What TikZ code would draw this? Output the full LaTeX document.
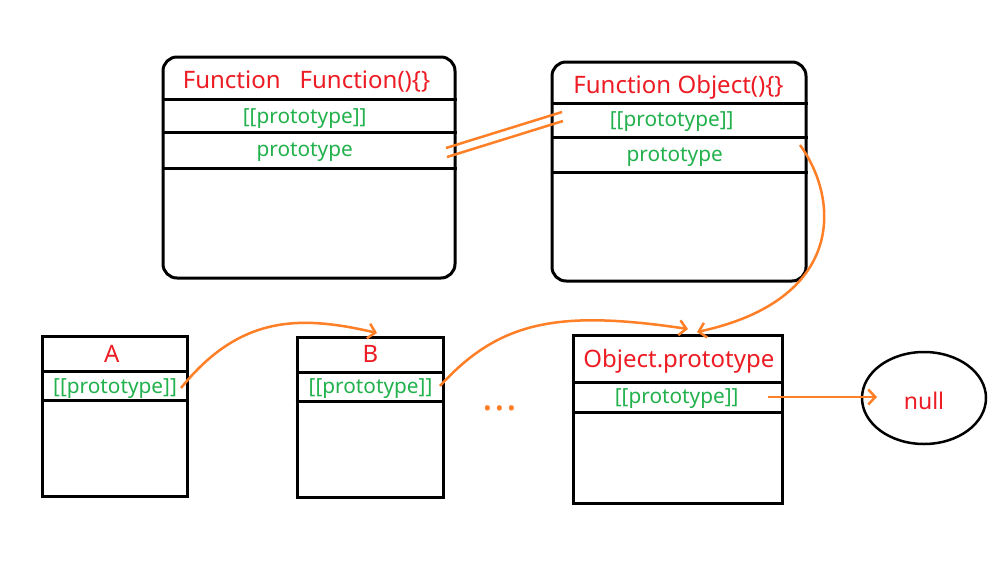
\documentclass[tikz,border=0pt]{standalone}
\usepackage{fontspec}
\setmainfont{Noto Sans}
\usetikzlibrary{arrows.meta,shapes.geometric}
\definecolor{pred}{HTML}{ED1C24}
\definecolor{pgreen}{HTML}{22B14C}
\definecolor{porange}{HTML}{FF7F27}
\begin{document}
\begin{tikzpicture}[x=1pt,y=-1pt,
  box/.style={draw=black, line width=3pt, inner sep=0pt},
  rbox/.style={box, rounded corners=14pt},
  div/.style={draw=black, line width=3pt},
  title/.style={text=pred, anchor=base, inner sep=0pt, font=\fontsize{24}{28}\selectfont},
  slot/.style={text=pgreen, anchor=base, inner sep=0pt, font=\fontsize{20.8}{24}\selectfont},
  link/.style={draw=porange, line width=2.5pt},
  tip/.style={-{Straight Barb[length=7pt,width=15pt]}}]
\useasboundingbox (0,0) rectangle (1001,562);
\fill[white] (0,0) rectangle (1001,562);

% boxes
\node[rbox, minimum width=292pt, minimum height=221pt] (f1) at (309,167.5) {};
\node[rbox, minimum width=254pt, minimum height=219pt] (f2) at (679,171.5) {};
\node[box, minimum width=145pt, minimum height=160pt] (a) at (114.5,416) {};
\node[box, minimum width=146pt, minimum height=160pt] (b) at (370,417) {};
\node[box, minimum width=209pt, minimum height=168pt] (o) at (677.5,419) {};
\node[draw=black, line width=2.5pt, ellipse, minimum width=124pt, minimum height=92pt, inner sep=0pt] (nul) at (924,398) {};

% dividers
\draw[div] (f1.west |- 0,99) -- (f1.east |- 0,99);
\draw[div] (f1.west |- 0,132) -- (f1.east |- 0,132);
\draw[div] (f1.west |- 0,168) -- (f1.east |- 0,168);
\draw[div] (f2.west |- 0,103) -- (f2.east |- 0,103);
\draw[div] (f2.west |- 0,137) -- (f2.east |- 0,137);
\draw[div] (f2.west |- 0,172) -- (f2.east |- 0,172);
\draw[div] (a.west |- 0,371) -- (a.east |- 0,371);
\draw[div] (a.west |- 0,400) -- (a.east |- 0,400);
\draw[div] (b.west |- 0,372) -- (b.east |- 0,372);
\draw[div] (b.west |- 0,401) -- (b.east |- 0,401);
\draw[div] (o.west |- 0,382) -- (o.east |- 0,382);
\draw[div] (o.west |- 0,412) -- (o.east |- 0,412);

% texts
\node[title] (f1t) at (306.5,88) {Function\hspace{19pt}Function()\{\}};
\node[slot] (f1s1) at (304.7,123) {[[prototype]]};
\node[slot] (f1s2) at (304.7,156) {prototype};
\node[title] (f2t) at (678.5,93) {Function Object()\{\}};
\node[slot] (f2s1) at (671.7,126) {[[prototype]]};
\node[slot] (f2s2) at (674.7,161) {prototype};
\node[title] (at) at (111.7,362) {A};
\node[slot] (as) at (115,393) {[[prototype]]};
\node[title] (bt) at (370.5,362) {B};
\node[slot] (bs) at (370.5,393) {[[prototype]]};
\node[title] (ot) at (678.8,367) {Object.prototype};
\node[slot] (os) at (676.7,403) {[[prototype]]};
\node[title, font=\fontsize{23}{27}\selectfont] (nult) at (924,409) {null};
\node[text=porange, anchor=base, inner sep=0pt, font=\fontsize{40}{44}\selectfont\bfseries] (dots) at (500,410) {.\hspace{1pt}.\hspace{1pt}.};

% connector end points
\coordinate (d1a) at (446,148);
\coordinate (d1b) at (562,112);
\coordinate (d2a) at (447,157);
\coordinate (d2b) at (563,121);
\coordinate (p2s) at (800,145);
\coordinate (otop1) at (697,332);
\coordinate (otop2) at (688,329);
\coordinate (ase) at (181,388);
\coordinate (btop) at (377,333);
\coordinate (bse) at (440,386);
\coordinate (ose) at (768,397);
\coordinate (nulw) at (877,397);

% connectors
\draw[link] (d1a) -- (d1b);
\draw[link] (d2a) -- (d2b);
\draw[link, tip] (p2s) .. controls (840,200) and (845,300) .. (otop1);
\draw[link, tip] (ase) .. controls (240,315) and (300,315) .. (btop);
\draw[link, tip] (bse) .. controls (500,320) and (560,310) .. (otop2);
\draw[link, tip] (ose) -- (nulw);
\end{tikzpicture}
\end{document}
